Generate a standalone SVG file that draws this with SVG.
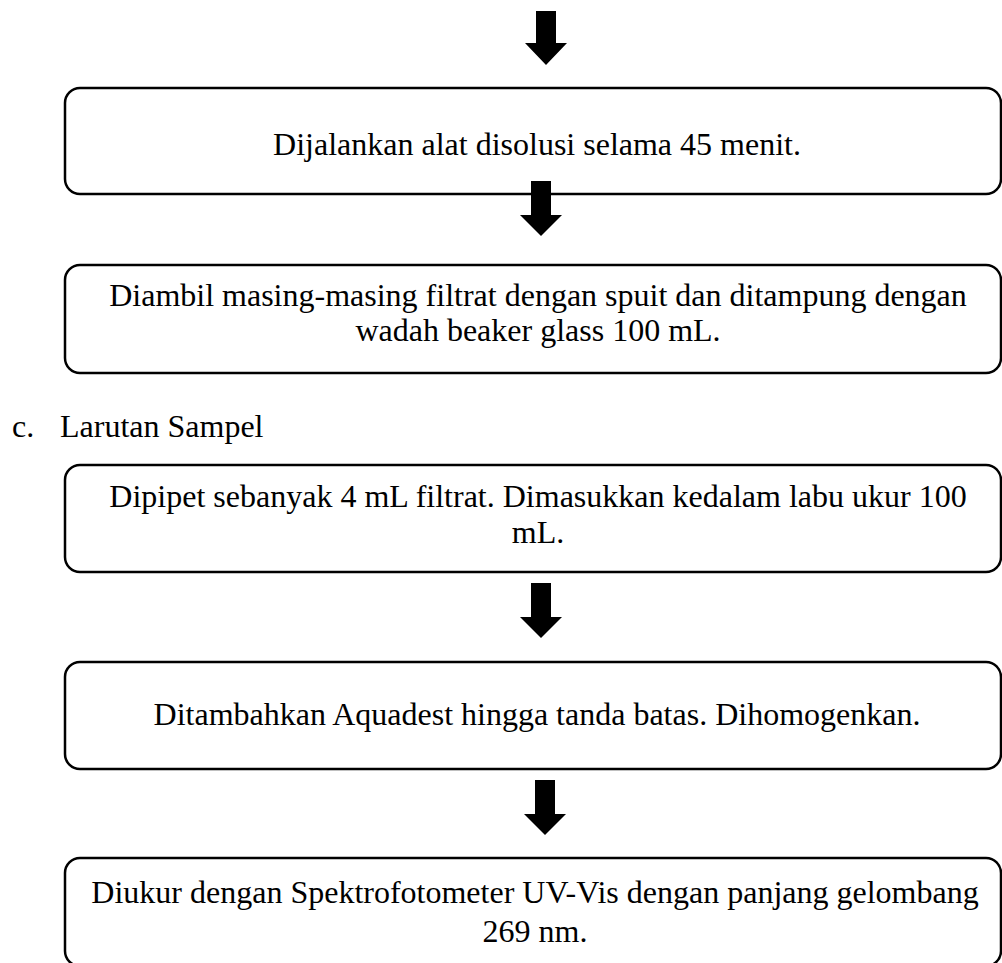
<svg xmlns="http://www.w3.org/2000/svg" width="1002" height="963" viewBox="0 0 1002 963">
<style>
.box{fill:#fff;stroke:#000;stroke-width:2.5}
.t{font-family:"Liberation Serif","Times New Roman",serif;font-size:32px;fill:#000;text-anchor:middle}
.l{font-family:"Liberation Serif","Times New Roman",serif;font-size:32px;fill:#000}
.arr{fill:#000}
</style>
<rect width="1002" height="963" fill="#fff"/>
<g id="node1"><rect class="box" x="65" y="88" width="936" height="106" rx="15"/><text class="t" x="537" y="155">Dijalankan alat disolusi selama 45 menit.</text></g>
<g id="node2"><rect class="box" x="65" y="265" width="936" height="108" rx="15"/><text class="t" x="538" y="306">Diambil masing-masing filtrat dengan spuit dan ditampung dengan</text><text class="t" x="538" y="341">wadah beaker glass 100 mL.</text></g>
<g id="label-c"><text class="l" x="12" y="437">c.</text><text class="l" x="60" y="437">Larutan Sampel</text></g>
<g id="node3"><rect class="box" x="65" y="465" width="936" height="107" rx="15"/><text class="t" x="538" y="507">Dipipet sebanyak 4 mL filtrat. Dimasukkan kedalam labu ukur 100</text><text class="t" x="538" y="543">mL.</text></g>
<g id="node4"><rect class="box" x="65" y="662" width="936" height="107" rx="15"/><text class="t" x="537" y="725">Ditambahkan Aquadest hingga tanda batas. Dihomogenkan.</text></g>
<g id="node5"><rect class="box" x="65" y="858" width="936" height="108" rx="15"/><text class="t" x="535" y="903">Diukur dengan Spektrofotometer UV-Vis dengan panjang gelombang</text><text class="t" x="535" y="942">269 nm.</text></g>
<g id="connectors">
<path class="arr" d="M536 11 H556 V43 H567 L546 65 L525 43 H536 Z"/>
<path class="arr" d="M531 181 H551 V215 H562 L541 236 L520 215 H531 Z"/>
<path class="arr" d="M531 583 H551 V617 H562 L541 638 L520 617 H531 Z"/>
<path class="arr" d="M535 780 H555 V814 H566 L545 835 L524 814 H535 Z"/>
</g>
</svg>
